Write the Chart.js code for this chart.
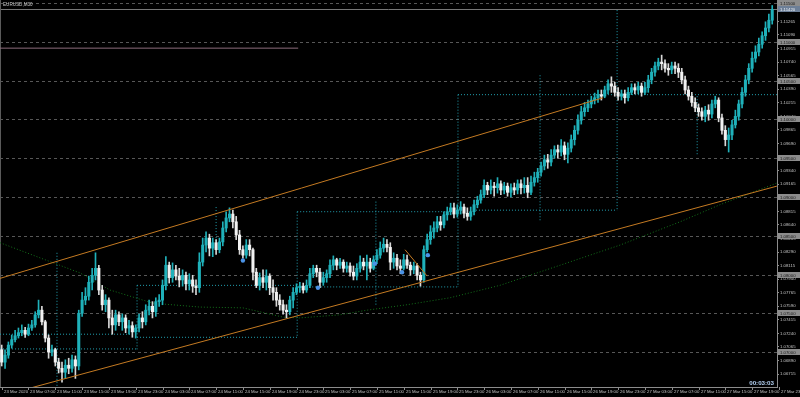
<!DOCTYPE html>
<html>
<head>
<meta charset="utf-8">
<script src="https://cdn.jsdelivr.net/npm/chart.js@4.4.1/dist/chart.umd.min.js"></script>
<style>
  html, body { margin: 0; padding: 0; background: #000; }
  canvas { display: block; }
</style>
</head>
<body>
<canvas id="chart" width="800" height="397"></canvas>
<script>
// EURUSD M30, 23 Mar 03:00 -> 27 Mar 22:00 (bar 0 = first visible bar)
const opens = [
  1.0703,1.0687,1.0696,1.0709,1.0716,1.0721,1.0725,1.0728,1.0723,1.0731,
  1.0735,1.0748,1.0754,1.0739,1.0718,1.0700,1.0703,1.0687,1.0679,1.0674,
  1.0683,1.0679,1.0690,1.0682,1.0750,1.0767,1.0772,1.0790,1.0799,1.0808,
  1.0780,1.0761,1.0767,1.0744,1.0735,1.0748,1.0739,1.0744,1.0731,1.0734,
  1.0726,1.0731,1.0744,1.0739,1.0754,1.0759,1.0752,1.0765,1.0767,1.0786,
  1.0812,1.0796,1.0806,1.0798,1.0793,1.0799,1.0788,1.0793,1.0785,1.0783,
  1.0816,1.0838,1.0847,1.0834,1.0841,1.0832,1.0842,1.0860,1.0873,1.0878,
  1.0868,1.0851,1.0832,1.0825,1.0838,1.0832,1.0803,1.0786,1.0796,1.0790,
  1.0798,1.0783,1.0777,1.0767,1.0761,1.0754,1.0752,1.0767,1.0777,1.0783,
  1.0785,1.0780,1.0786,1.0801,1.0808,1.0803,1.0790,1.0796,1.0801,1.0812,
  1.0819,1.0812,1.0816,1.0808,1.0811,1.0803,1.0798,1.0808,1.0816,1.0811,
  1.0816,1.0808,1.0819,1.0825,1.0834,1.0839,1.0835,1.0816,1.0821,1.0811,
  1.0808,1.0819,1.0812,1.0806,1.0811,1.0799,1.0793,1.0832,1.0845,1.0855,
  1.0860,1.0868,1.0864,1.0877,1.0881,1.0886,1.0878,1.0883,1.0887,1.0879,
  1.0875,1.0881,1.0890,1.0896,1.0903,1.0915,1.0909,1.0914,1.0912,1.0917,
  1.0909,1.0914,1.0906,1.0912,1.0909,1.0917,1.0912,1.0915,1.0906,1.0919,
  1.0925,1.0932,1.0940,1.0948,1.0945,1.0954,1.0961,1.0958,1.0966,1.0955,
  1.0963,1.0974,1.0986,1.0999,1.1010,1.1015,1.1020,1.1025,1.1028,1.1032,
  1.1030,1.1038,1.1046,1.1043,1.1035,1.1030,1.1033,1.1028,1.1035,1.1041,
  1.1038,1.1043,1.1035,1.1041,1.1051,1.1061,1.1069,1.1074,1.1072,1.1066,
  1.1064,1.1069,1.1066,1.1061,1.1051,1.1038,1.1030,1.1022,1.1015,1.1010,
  1.1004,1.1012,1.1007,1.1020,1.1025,1.1002,1.0986,1.0974,1.0980,1.0993,
  1.1004,1.1020,1.1035,1.1051,1.1066,1.1079,1.1087,1.1097,1.1108,1.1118,
  1.1128
];
const highs = [
  1.0709,1.0703,1.0713,1.0722,1.0728,1.0731,1.0735,1.0732,1.0736,1.0741,
  1.0752,1.0767,1.0759,1.0741,1.0722,1.0709,1.0705,1.0692,1.0687,1.0690,
  1.0692,1.0696,1.0695,1.0754,1.0777,1.0783,1.0798,1.0808,1.0828,1.0812,
  1.0786,1.0774,1.0770,1.0754,1.0754,1.0752,1.0749,1.0748,1.0741,1.0739,
  1.0735,1.0749,1.0752,1.0761,1.0767,1.0765,1.0770,1.0774,1.0793,1.0823,
  1.0816,1.0815,1.0812,1.0808,1.0806,1.0803,1.0801,1.0799,1.0793,1.0828,
  1.0847,1.0855,1.0852,1.0847,1.0845,1.0847,1.0868,1.0881,1.0886,1.0883,
  1.0875,1.0857,1.0837,1.0845,1.0845,1.0834,1.0808,1.0802,1.0806,1.0806,
  1.0801,1.0793,1.0783,1.0774,1.0767,1.0761,1.0772,1.0783,1.0788,1.0790,
  1.0789,1.0793,1.0808,1.0812,1.0812,1.0808,1.0803,1.0806,1.0819,1.0824,
  1.0821,1.0821,1.0819,1.0816,1.0815,1.0811,1.0814,1.0824,1.0821,1.0825,
  1.0821,1.0824,1.0832,1.0842,1.0847,1.0845,1.0841,1.0828,1.0826,1.0819,
  1.0826,1.0825,1.0816,1.0816,1.0814,1.0803,1.0837,1.0852,1.0863,1.0868,
  1.0875,1.0875,1.0881,1.0887,1.0892,1.0892,1.0890,1.0894,1.0891,1.0886,
  1.0887,1.0896,1.0901,1.0909,1.0922,1.0919,1.0922,1.0919,1.0925,1.0921,
  1.0919,1.0918,1.0917,1.0918,1.0922,1.0922,1.0925,1.0925,1.0927,1.0932,
  1.0937,1.0945,1.0954,1.0955,1.0961,1.0966,1.0967,1.0974,1.0971,1.0970,
  1.0980,1.0992,1.1006,1.1017,1.1022,1.1025,1.1030,1.1034,1.1038,1.1038,
  1.1043,1.1051,1.1055,1.1048,1.1041,1.1038,1.1038,1.1041,1.1046,1.1046,
  1.1048,1.1047,1.1048,1.1057,1.1066,1.1074,1.1079,1.1083,1.1077,1.1072,
  1.1074,1.1074,1.1072,1.1066,1.1056,1.1043,1.1035,1.1028,1.1020,1.1015,
  1.1017,1.1019,1.1025,1.1030,1.1028,1.1007,1.0992,1.0989,1.0999,1.1012,
  1.1025,1.1041,1.1057,1.1072,1.1087,1.1095,1.1105,1.1113,1.1126,1.1136,
  1.1147
];
const lows = [
  1.0682,1.0679,1.0692,1.0705,1.0713,1.0718,1.0721,1.0719,1.0721,1.0728,
  1.0732,1.0744,1.0735,1.0713,1.0692,1.0695,1.0682,1.0673,1.0661,1.0666,
  1.0672,1.0674,1.0666,1.0677,1.0746,1.0761,1.0767,1.0780,1.0793,1.0774,
  1.0754,1.0752,1.0731,1.0723,1.0728,1.0734,1.0728,1.0725,1.0723,1.0719,
  1.0718,1.0726,1.0731,1.0735,1.0748,1.0744,1.0746,1.0759,1.0761,1.0780,
  1.0789,1.0790,1.0793,1.0784,1.0785,1.0780,1.0780,1.0777,1.0774,1.0777,
  1.0811,1.0829,1.0824,1.0823,1.0826,1.0828,1.0837,1.0855,1.0868,1.0860,
  1.0845,1.0826,1.0821,1.0821,1.0824,1.0793,1.0783,1.0780,1.0783,1.0780,
  1.0774,1.0767,1.0759,1.0754,1.0749,1.0744,1.0748,1.0757,1.0774,1.0777,
  1.0776,1.0777,1.0783,1.0796,1.0797,1.0783,1.0786,1.0790,1.0796,1.0806,
  1.0806,1.0808,1.0803,1.0803,1.0798,1.0793,1.0793,1.0803,1.0806,1.0793,
  1.0803,1.0806,1.0814,1.0821,1.0829,1.0829,1.0806,1.0808,1.0806,1.0801,
  1.0806,1.0808,1.0799,1.0801,1.0793,1.0785,1.0790,1.0829,1.0839,1.0847,
  1.0855,1.0857,1.0860,1.0870,1.0877,1.0873,1.0874,1.0878,1.0873,1.0870,
  1.0870,1.0877,1.0886,1.0892,1.0899,1.0903,1.0904,1.0901,1.0905,1.0903,
  1.0904,1.0901,1.0900,1.0903,1.0904,1.0904,1.0905,1.0899,1.0903,1.0914,
  1.0919,1.0927,1.0935,1.0937,1.0940,1.0950,1.0950,1.0953,1.0948,1.0944,
  1.0958,1.0967,1.0981,1.0994,1.1004,1.1010,1.1015,1.1020,1.1022,1.1025,
  1.1028,1.1033,1.1035,1.1030,1.1025,1.1025,1.1021,1.1024,1.1032,1.1033,
  1.1033,1.1030,1.1032,1.1035,1.1046,1.1056,1.1064,1.1064,1.1061,1.1057,
  1.1059,1.1059,1.1054,1.1046,1.1033,1.1025,1.1017,1.1010,1.1004,1.0999,
  1.0997,1.0999,1.1002,1.1015,1.0997,1.0981,1.0966,1.0958,1.0974,1.0989,
  1.0999,1.1015,1.1030,1.1046,1.1061,1.1074,1.1082,1.1092,1.1102,1.1113,
  1.1123
];
const closes = [
  1.0687,1.0696,1.0709,1.0716,1.0721,1.0725,1.0728,1.0723,1.0731,1.0735,
  1.0748,1.0754,1.0739,1.0718,1.0700,1.0703,1.0687,1.0679,1.0674,1.0683,
  1.0679,1.0690,1.0682,1.0750,1.0767,1.0772,1.0790,1.0799,1.0808,1.0780,
  1.0761,1.0767,1.0744,1.0735,1.0748,1.0739,1.0744,1.0731,1.0734,1.0726,
  1.0731,1.0744,1.0739,1.0754,1.0759,1.0752,1.0765,1.0767,1.0786,1.0812,
  1.0796,1.0806,1.0798,1.0793,1.0799,1.0788,1.0793,1.0785,1.0783,1.0816,
  1.0838,1.0847,1.0834,1.0841,1.0832,1.0842,1.0860,1.0873,1.0878,1.0868,
  1.0851,1.0832,1.0825,1.0838,1.0832,1.0803,1.0786,1.0796,1.0790,1.0798,
  1.0783,1.0777,1.0767,1.0761,1.0754,1.0752,1.0767,1.0777,1.0783,1.0785,
  1.0780,1.0786,1.0801,1.0808,1.0803,1.0790,1.0796,1.0801,1.0812,1.0819,
  1.0812,1.0816,1.0808,1.0811,1.0803,1.0798,1.0808,1.0816,1.0811,1.0816,
  1.0808,1.0819,1.0825,1.0834,1.0839,1.0835,1.0816,1.0821,1.0811,1.0808,
  1.0819,1.0812,1.0806,1.0811,1.0799,1.0793,1.0832,1.0845,1.0855,1.0860,
  1.0868,1.0864,1.0877,1.0881,1.0886,1.0878,1.0883,1.0887,1.0879,1.0875,
  1.0881,1.0890,1.0896,1.0903,1.0915,1.0909,1.0914,1.0912,1.0917,1.0909,
  1.0914,1.0906,1.0912,1.0909,1.0917,1.0912,1.0915,1.0906,1.0919,1.0925,
  1.0932,1.0940,1.0948,1.0945,1.0954,1.0961,1.0958,1.0966,1.0955,1.0963,
  1.0974,1.0986,1.0999,1.1010,1.1015,1.1020,1.1025,1.1028,1.1032,1.1030,
  1.1038,1.1046,1.1043,1.1035,1.1030,1.1033,1.1028,1.1035,1.1041,1.1038,
  1.1043,1.1035,1.1041,1.1051,1.1061,1.1069,1.1074,1.1072,1.1066,1.1064,
  1.1069,1.1066,1.1061,1.1051,1.1038,1.1030,1.1022,1.1015,1.1010,1.1004,
  1.1012,1.1007,1.1020,1.1025,1.1002,1.0986,1.0974,1.0980,1.0993,1.1004,
  1.1020,1.1035,1.1051,1.1066,1.1079,1.1087,1.1097,1.1108,1.1118,1.1128,
  1.1142
];

// time axis labels (every 8 bars = 4 hours)
const xLabelBars = [0,8,16,24,32,40,48,56,64,72,80,88,96,104,112,120,128,136,144,152,160,168,176,184,192,200,208,216,224,232];
const xLabels = [
  "23 Mar 2020","23 Mar 07:00","23 Mar 11:00","23 Mar 15:00","23 Mar 19:00","23 Mar 23:00",
  "24 Mar 03:00","24 Mar 07:00","24 Mar 11:00","24 Mar 15:00","24 Mar 19:00","24 Mar 23:00",
  "25 Mar 03:00","25 Mar 07:00","25 Mar 11:00","25 Mar 15:00","25 Mar 19:00","25 Mar 23:00",
  "26 Mar 03:00","26 Mar 07:00","26 Mar 11:00","26 Mar 15:00","26 Mar 19:00","26 Mar 23:00",
  "27 Mar 03:00","27 Mar 07:00","27 Mar 11:00","27 Mar 15:00","27 Mar 19:00","27 Mar 23:00"
];

// price scale labels
const yTicks = [
  1.06715,1.06890,1.07065,1.07240,1.07415,1.07590,1.07765,1.07940,1.08115,
  1.08290,1.08465,1.08640,1.08815,1.08990,1.09165,1.09340,1.09515,1.09690,
  1.09865,1.10040,1.10215,1.10390,1.10565,1.10740,1.10915,1.11090,1.11265
];
// horizontal line objects (round levels)
const levelPrices = [1.0700,1.0750,1.0800,1.0850,1.0900,1.0950,1.1000,1.1050,1.1100,1.1150];

// moving average, read at a few points
const maBars   = [-0.5,9.3,23.4,32.3,45.2,59.2,72,84,89,101,109,121,133.8,148.7,166.7,184.6,202.5,214.4,231.4];
const maValues = [1.0841,1.0825,1.0802,1.0780,1.0763,1.0758,1.0757,1.0745,1.0744,1.0748,1.0754,1.0761,1.0770,1.0786,1.0812,1.0838,1.0868,1.0890,1.0918];

// trend channel anchors [bar, price]
const upperChannel = [[-0.5, 1.0795], [179.5, 1.1028]];
const lowerChannel = [[-0.5, 1.0643], [231.4, 1.0914]];
const shortTrend   = [[120.4, 1.0832], [127, 1.0798]];
const pinkLevel    = [[-0.5, 1.1092], [88.5, 1.1092]];

// dotted range boxes: [bar1, price1, bar2, price2]
const rangeSegments = [
  [16.5,1.0828,16.5,1.0640],
  [-0.5,1.0723,40.4,1.0723],
  [-0.5,1.0704,40.4,1.0704],
  [40.4,1.0786,40.4,1.0703],
  [40.4,1.0786,88.2,1.0786],
  [40.4,1.0719,88.2,1.0719],
  [64.0,1.0887,64.0,1.0835],
  [88.2,1.0881,88.2,1.0719],
  [88.2,1.0881,136.2,1.0881],
  [88.2,1.0784,136.2,1.0784],
  [111.7,1.0894,111.7,1.0761],
  [136.2,1.1032,136.2,1.0784],
  [136.2,1.1032,231.5,1.1032],
  [136.2,1.0883,183.7,1.0883],
  [160.7,1.1057,160.7,1.0870],
  [183.7,1.1141,183.7,1.0883],
  [207.6,1.1030,207.6,1.0954]
];

// fractal marks
const dotBars   = [72, 94.4, 111.4, 119.5, 127.2];
const dotPrices = [1.0818, 1.0783, 1.0814, 1.0803, 1.0825];

const title = "EURUSD,M30";
const timer = "00:03:03";

const BULL = '#1fb1ba';
const BEAR = '#f2f2f2';
const FONT = '"Liberation Sans", Arial, sans-serif';

const idx = closes.map((_, i) => i);
const isBull = i => closes[i] >= opens[i];

const segData = [];
rangeSegments.forEach(s => {
  segData.push({ x: s[0], y: s[1] }, { x: s[2], y: s[3] }, { x: s[2], y: null });
});

function line(points, color, extra) {
  return Object.assign({
    type: 'line',
    data: points.map(p => ({ x: p[0], y: p[1] })),
    borderColor: color,
    borderWidth: 1,
    pointRadius: 0,
    tension: 0,
    fill: false
  }, extra || {});
}

const mtOverlay = {
  id: 'mtOverlay',
  beforeDraw(chart) {
    const c = chart.ctx;
    c.save();
    c.fillStyle = '#000';
    c.fillRect(0, 0, chart.width, chart.height);
    c.restore();
  },
  beforeDatasetsDraw(chart) {
    const { ctx: c, chartArea: a, scales: { y } } = chart;
    c.save();
    c.beginPath();
    c.rect(a.left, a.top, a.width, a.height);
    c.clip();
    c.lineWidth = 1;
    c.strokeStyle = '#575757';
    c.setLineDash([3, 3]);
    levelPrices.forEach(p => {
      const py = Math.round(y.getPixelForValue(p)) + 0.5;
      c.beginPath(); c.moveTo(a.left, py); c.lineTo(a.right, py); c.stroke();
    });
    c.setLineDash([]);
    // bid line
    c.strokeStyle = '#777';
    const by = Math.round(y.getPixelForValue(closes[closes.length - 1])) + 0.5;
    c.beginPath(); c.moveTo(a.left, by); c.lineTo(a.right, by); c.stroke();
    // window edge
    c.strokeStyle = '#5a5a5a';
    c.beginPath(); c.moveTo(0.5, a.top); c.lineTo(0.5, a.bottom); c.stroke();
    c.restore();
  },
  afterDraw(chart) {
    const { ctx: c, chartArea: a, scales: { x, y } } = chart;
    c.save();
    c.font = '4.3px ' + FONT;
    c.textBaseline = 'middle';
    c.textAlign = 'left';
    // level labels on the price scale
    levelPrices.forEach(p => {
      const py = Math.round(y.getPixelForValue(p));
      c.fillStyle = '#8c8c8c';
      c.fillRect(a.right + 1, py - 3, 22, 6);
      c.fillStyle = '#161616';
      c.fillText(p.toFixed(5), a.right + 3, py + 0.5);
    });
    const last = closes[closes.length - 1];
    const by = Math.round(y.getPixelForValue(last));
    c.fillStyle = '#6d7f97';
    c.fillRect(a.right + 1, by - 3, 22, 6);
    c.fillStyle = '#eef3fa';
    c.fillText(last.toFixed(5), a.right + 3, by + 0.5);

    // time labels
    c.textBaseline = 'top';
    c.strokeStyle = '#8c8c8c';
    c.lineWidth = 1;
    xLabelBars.forEach((b, i) => {
      const px = Math.round(x.getPixelForValue(b)) + 0.5;
      c.beginPath(); c.moveTo(px, a.bottom); c.lineTo(px, a.bottom + 3); c.stroke();
      c.fillStyle = '#c4c4c4';
      c.fillText(xLabels[i], px + 1.5, a.bottom + 3);
    });

    // symbol caption
    c.font = '4.6px ' + FONT;
    c.fillStyle = '#c8c8c8';
    c.fillText(title, 3, 2);

    // bar timer
    c.font = 'bold 6.2px ' + FONT;
    c.textAlign = 'right';
    c.textBaseline = 'alphabetic';
    c.fillStyle = '#b5d2f3';
    c.fillText(timer, a.right - 3, a.bottom - 2);
    c.restore();
  }
};

new Chart(document.getElementById('chart'), {
  type: 'bar',
  data: {
    datasets: [
      {
        type: 'bar',
        data: idx.map(i => ({ x: i, y: [lows[i], highs[i]] })),
        backgroundColor: ctx => isBull(ctx.dataIndex) ? BULL : '#d8d8d8',
        barThickness: 1,
        grouped: false,
        order: 6
      },
      {
        type: 'bar',
        data: idx.map(i => ({ x: i, y: [opens[i], closes[i]] })),
        backgroundColor: ctx => isBull(ctx.dataIndex) ? BULL : BEAR,
        barThickness: 2.4,
        minBarLength: 1,
        grouped: false,
        order: 5
      },
      line(maBars.map((b, i) => [b, maValues[i]]), '#13701a', { borderDash: [1, 2], order: 8 }),
      {
        type: 'line',
        data: segData,
        borderColor: '#22a0b0',
        borderWidth: 1,
        borderDash: [1, 2],
        pointRadius: 0,
        spanGaps: false,
        order: 9
      },
      line(upperChannel, '#c47a22', { order: 2 }),
      line(lowerChannel, '#c47a22', { order: 2 }),
      line(shortTrend, '#c47a22', { order: 2 }),
      line(pinkLevel, '#8c6c7c', { order: 2 }),
      {
        type: 'line',
        data: dotBars.map((b, i) => ({ x: b, y: dotPrices[i] })),
        showLine: false,
        pointRadius: 2.2,
        pointBorderWidth: 0,
        pointBackgroundColor: '#4b93e6',
        order: 1
      }
    ]
  },
  options: {
    responsive: false,
    animation: false,
    devicePixelRatio: 1,
    layout: { padding: 0, autoPadding: false },
    events: [],
    plugins: { legend: { display: false }, tooltip: { enabled: false } },
    scales: {
      x: {
        type: 'linear',
        min: -0.507,
        max: 231.43,
        offset: false,
        grid: { display: false },
        border: { display: true, color: '#8c8c8c' },
        ticks: { display: false },
        afterFit: s => { s.height = 10; s.paddingLeft = 0; s.paddingRight = 0; }
      },
      y: {
        position: 'right',
        min: 1.06549,
        max: 1.11541,
        grid: { drawOnChartArea: false, color: '#8c8c8c', tickLength: 2 },
        border: { color: '#8c8c8c' },
        ticks: {
          autoSkip: false,
          color: '#c4c4c4',
          padding: 1,
          font: { size: 4.3, family: FONT },
          callback: v => v.toFixed(5)
        },
        afterBuildTicks: s => { s.ticks = yTicks.map(v => ({ value: v })); },
        afterFit: s => { s.width = 23; s.paddingTop = 0; s.paddingBottom = 0; }
      }
    }
  },
  plugins: [mtOverlay]
});
</script>
</body>
</html>
